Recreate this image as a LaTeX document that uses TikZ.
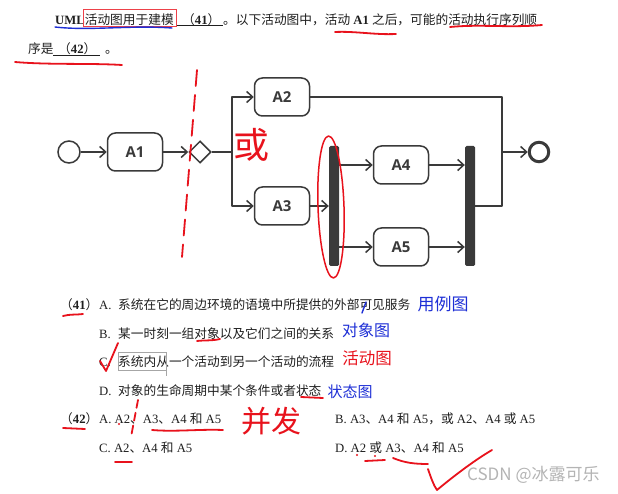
\documentclass[tikz,border=0pt]{standalone}
\usepackage{fontspec}
\setmainfont{Liberation Serif}
\newfontfamily\cjk{Noto Sans CJK SC}
\newfontfamily\boxfont{Open Sans}
\usetikzlibrary{shapes.geometric,arrows.meta,positioning}
\definecolor{linegray}{HTML}{3A3A3A}
\definecolor{textblack}{HTML}{1F1F1F}
\definecolor{penred}{HTML}{E8121C}
\definecolor{penblue}{HTML}{1E2FD6}
\definecolor{markgray}{HTML}{B4B4B4}
\newcommand{\optlabel}[1]{\makebox[19pt][l]{#1}}

\begin{document}
\begin{tikzpicture}[x=1pt,y=-1pt,
    act/.style={draw=linegray,line width=1.5pt,rounded corners=8pt,
      minimum width=55pt,minimum height=38pt,inner sep=0pt,text=linegray,
      font=\boxfont\bfseries\fontsize{15}{15}\selectfont},
    initial/.style={draw=linegray,line width=1.5pt,circle,minimum size=22pt,inner sep=0pt},
    final/.style={draw=linegray,line width=3pt,circle,minimum size=19.5pt,inner sep=0pt},
    decision/.style={draw=linegray,line width=1.5pt,diamond,minimum width=22pt,
      minimum height=22pt,inner sep=0pt},
    syncbar/.style={fill=linegray,rounded corners=1.5pt,minimum width=10pt,
      minimum height=120pt,inner sep=0pt},
    flow/.style={draw=linegray,line width=1.5pt,line join=round,
      -{Straight Barb[length=6pt,width=11pt]}},
    wire/.style={draw=linegray,line width=1.5pt,line join=round},
    txt/.style={anchor=base west,inner sep=0pt,text=textblack,
      font=\fontsize{12.7}{15}\selectfont},
    redpen/.style={draw=penred,line width=1.8pt,line cap=round,line join=round},
    bluepen/.style={draw=penblue,line width=1.4pt,line cap=round},
    handred/.style={inner sep=0pt,text=penred},
    handblue/.style={inner sep=0pt,text=penblue}
  ]
  \fill[white] (0,0) rectangle (618,494);
  \useasboundingbox (0,0) rectangle (618,494);

  % question text
  \node[txt] (stem1) at (55,24.6) {\textbf{UML}{\cjk 活动图用于建模}};
  \node[txt] (blank41) at (182,24.6) {{\cjk （}\textbf{41}{\cjk ）}};
  \node[txt] (stem2) at (223,24.6) {{\cjk 。以下活动图中，活动} \textbf{A1} {\cjk 之后，可能的活动执行序列顺}};
  \node[txt] (stem3) at (28,54) {{\cjk 序是}};
  \node[txt] (blank42) at (58,54) {{\cjk （}\textbf{42}{\cjk ）}};
  \node[txt] (stem4) at (105,54) {{\cjk 。}};
  \draw[textblack,line width=0.8pt] ([xshift=-5pt,yshift=-1pt]blank41.base west) -- ([xshift=2pt,yshift=-1pt]blank41.base east);
  \draw[textblack,line width=0.8pt] ([xshift=-5pt,yshift=-1pt]blank42.base west) -- ([xshift=3pt,yshift=-1pt]blank42.base east);

  % activity diagram
  \node[initial] (start) at (69,152) {};
  \node[act] (A1) at (135,152) {A1};
  \node[decision] (dec) at (200,152) {};
  \node[act] (A2) at (282,97) {A2};
  \node[act] (A3) at (282,206) {A3};
  \node[syncbar] (fork) at (334,206) {};
  \node[act] (A4) at (401,165) {A4};
  \node[act] (A5) at (401,247) {A5};
  \node[syncbar] (join) at (470,206) {};
  \node[final] (end) at (539,152) {};
  \coordinate (split) at (232,152);
  \coordinate (merge) at (502,152);

  \draw[flow] (start) -- (A1);
  \draw[flow] (A1) -- (dec);
  \draw[wire] (dec) -- (split);
  \draw[flow] (split) |- (A2);
  \draw[flow] (split) |- (A3);
  \draw[flow] (A3) -- (fork);
  \draw[flow] (fork.east |- A4) -- (A4);
  \draw[flow] (fork.east |- A5) -- (A5);
  \draw[flow] (A4) -- (join.west |- A4);
  \draw[flow] (A5) -- (join.west |- A5);
  \draw[wire] (A2) -| (merge);
  \draw[wire] (join) -| (merge);
  \draw[flow] (merge) -- (end);

  % options
  \node[txt] (q41) at (60,309) {{\cjk （}\textbf{41}{\cjk ）}};
  \node[txt] (q41a) at (99,309) {\optlabel{A.}{\cjk 系统在它的周边环境的语境中所提供的外部可见服务}};
  \node[txt] (q41b) at (99,338) {\optlabel{B.}{\cjk 某一时刻一组对象以及它们之间的关系}};
  \node[txt] (q41c) at (99,366) {\optlabel{C.}{\cjk 系统内从一个活动到另一个活动的流程}};
  \node[txt] (q41d) at (99,395) {\optlabel{D.}{\cjk 对象的生命周期中某个条件或者状态}};
  \node[txt] (q42) at (60,423) {{\cjk （}\textbf{42}{\cjk ）}};
  \node[txt] (q42a) at (99,423) {A. A2{\cjk 、}A3{\cjk 、}A4 {\cjk 和} A5};
  \node[txt] (q42b) at (335,423) {B. A3{\cjk 、}A4 {\cjk 和} A5{\cjk ，或} A2{\cjk 、}A4 {\cjk 或} A5};
  \node[txt] (q42c) at (99,452) {C. A2{\cjk 、}A4 {\cjk 和} A5};
  \node[txt] (q42d) at (335,452) {D. A2 {\cjk 或} A3{\cjk 、}A4 {\cjk 和} A5};
  \draw[gray!70,line width=0.6pt] (118,352) rectangle (166,370);
  \draw[gray!70,line width=0.6pt] (166,370) -- (166,376);

  % handwritten notes
  \draw[draw=penred!80,line width=0.9pt] (83,9) rectangle (176,26);
  \draw[bluepen] (55,27) .. controls (90,31) and (130,25) .. (172,28);
  \draw[redpen] (335,32) .. controls (355,31) and (375,35) .. (396,34);
  \draw[redpen] (450,27) .. controls (480,24) and (510,28) .. (542,25);
  \draw[redpen] (15,62) .. controls (50,65) and (90,63) .. (122,65);
  \draw[redpen,dash pattern=on 16pt off 9pt] (197,70) -- (182,257);
  \draw[redpen,line width=1.5pt,rotate around={2:(331,207)}] (331,207) ellipse [x radius=13, y radius=71];
  \node[handred,font=\cjk\fontsize{36}{36}\selectfont] (huo) at (251,145) {或};

  \draw[redpen] (63,316) .. controls (70,314) and (76,315) .. (83,314);
  \draw[redpen] (197,341) .. controls (205,340) and (212,341) .. (220,339);
  \draw[redpen] (100,361) -- (106,371) -- (118,343);
  \draw[redpen] (301,397) -- (323,398);
  \node[handblue,font=\cjk\fontsize{17}{17}\selectfont] (note41a) at (443,304) {用例图};
  \draw[bluepen] (366,302) -- (362,313);
  \node[handblue,font=\cjk\fontsize{16}{16}\selectfont] (note41b) at (366,330) {对象图};
  \node[handred,font=\cjk\fontsize{16.5}{16.5}\selectfont] (note41c) at (367,358) {活动图};
  \node[handblue,font=\cjk\fontsize{15}{15}\selectfont] (note41d) at (350,392) {状态图};

  \draw[redpen] (63,428) -- (85,429);
  \draw[redpen,dash pattern=on 8pt off 5pt] (138,400) -- (131,437);
  \fill[penred] (119,424) circle (1.2);
  \draw[redpen] (152,430) .. controls (175,432) and (200,429) .. (223,430);
  \node[handred,font=\cjk\fontsize{30}{30}\selectfont] (note42) at (271,421) {并发};
  \draw[redpen] (115,462) -- (132,462);
  \fill[penred] (357,455) circle (1.2);
  \fill[penred] (375,456) circle (1.2);
  \draw[redpen] (365,461) -- (385,460);
  \draw[redpen] (393,458) .. controls (405,463) and (415,464) .. (428,464);
  \draw[redpen] (428,469) .. controls (431,478) and (434,486) .. (437,490) .. controls (455,475) and (475,460) .. (492,450);

  % watermark
  \node[anchor=west,inner sep=0pt,text=markgray,font=\cjk\fontsize{17}{17}\selectfont] (mark) at (467,475) {CSDN @冰露可乐};
\end{tikzpicture}
\end{document}
